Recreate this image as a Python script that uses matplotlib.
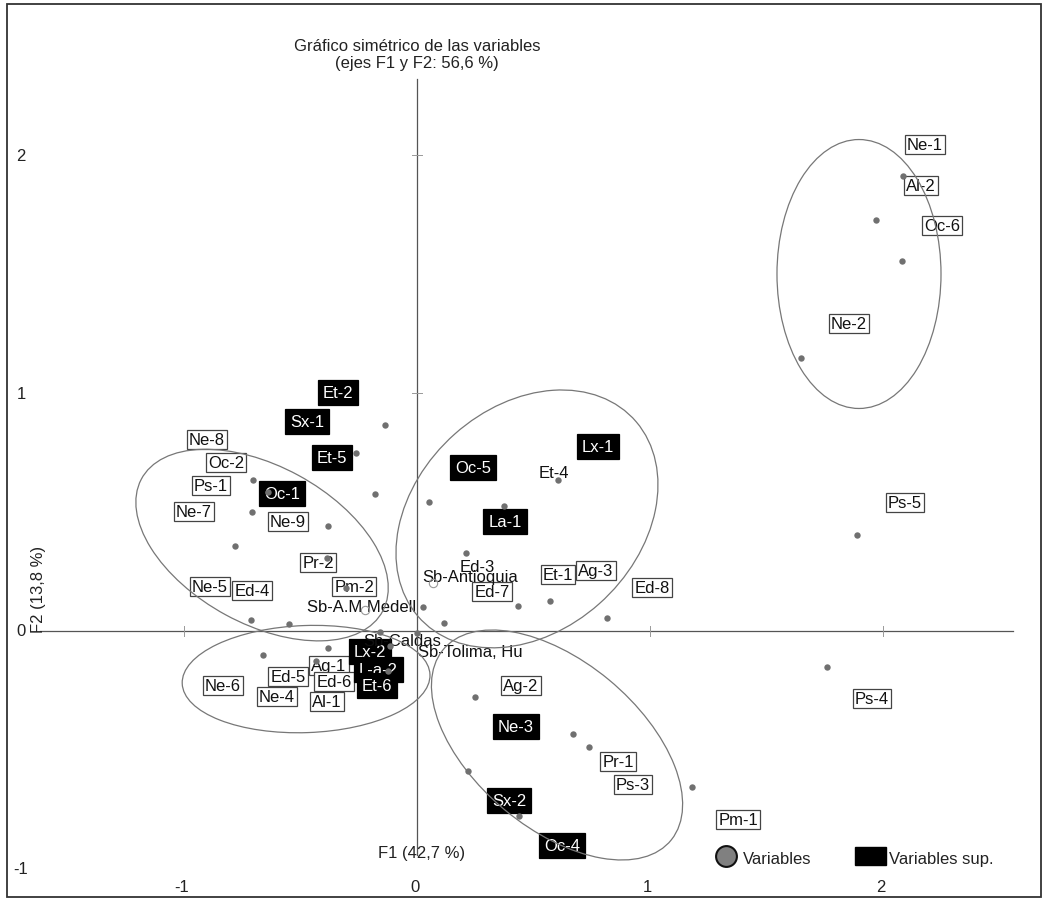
import matplotlib
matplotlib.use("Agg")
import matplotlib.pyplot as plt
from matplotlib.patches import Ellipse, Rectangle

plt.rcParams["font.family"] = ["Liberation Sans", "DejaVu Sans"]

# active variables (grey points), F1 / F2 coordinates
var_x = [-0.137, -0.262, -0.704, -0.639, -0.180, -0.708, -0.382, -0.781,
         -0.386, -0.305, -0.712, -0.549, 0.026, 0.116, 0.052, 0.605,
         0.373, 0.210, 0.571, 0.433, 0.815, 0.000, -0.159, -0.116,
         -0.661, -0.382, -0.433, -0.124, 0.249, 0.670, 0.738, 1.180,
         0.219, 0.438, 1.760, 1.888, 2.086, 1.970, 2.082, 1.648]
var_y = [0.866, 0.748, 0.634, 0.584, 0.576, 0.500, 0.441, 0.357,
         0.307, 0.181, 0.046, 0.029, 0.101, 0.034, 0.542, 0.634,
         0.525, 0.328, 0.126, 0.105, 0.055, -0.008, -0.004, -0.063,
         -0.101, -0.071, -0.126, -0.168, -0.277, -0.433, -0.487, -0.655,
         -0.588, -0.777, -0.151, 0.403, 1.912, 1.727, 1.555, 1.147]

# supplementary qualitative points (hollow)
sup_x = [-0.223, 0.069]
sup_y = [0.088, 0.202]

# labels of active variables (white boxes)
box_names = ["Ne-1", "Al-2", "Oc-6", "Ne-2", "Ps-5", "Ps-4", "Pm-1", "Ed-8",
             "Ag-3", "Et-1", "Ed-7", "Ag-2", "Pr-1", "Ps-3", "Ne-8", "Oc-2",
             "Ps-1", "Ne-7", "Ne-9", "Pr-2", "Pm-2", "Ne-5", "Ed-4", "Ne-6",
             "Ed-5", "Ne-4", "Ag-1", "Ed-6", "Al-1"]
box_x = [2.180, 2.163, 2.253, 1.854, 2.094, 1.953, 1.378, 1.009,
         0.768, 0.605, 0.322, 0.446, 0.863, 0.927, -0.901, -0.820,
         -0.884, -0.957, -0.554, -0.425, -0.270, -0.888, -0.708, -0.833,
         -0.554, -0.601, -0.378, -0.356, -0.386]
box_y = [2.046, 1.870, 1.702, 1.290, 0.542, -0.282, -0.794, 0.181,
         0.256, 0.239, 0.164, -0.231, -0.550, -0.643, 0.803, 0.706,
         0.613, 0.500, 0.458, 0.286, 0.189, 0.189, 0.172, -0.231,
         -0.193, -0.277, -0.147, -0.214, -0.298]

# supplementary variables (black boxes)
sup_names = ["Et-2", "Sx-1", "Et-5", "Oc-1", "Oc-5", "Lx-1", "La-1", "Lx-2",
             "L-a-2", "Et-6", "Ne-3", "Sx-2", "Oc-4"]
sup_lx = [-0.339, -0.472, -0.365, -0.579, 0.240, 0.777, 0.378, -0.202,
          -0.167, -0.172, 0.425, 0.395, 0.622]
sup_ly = [1.004, 0.882, 0.727, 0.576, 0.685, 0.777, 0.462, -0.088,
          -0.160, -0.231, -0.403, -0.714, -0.903]

# plain labels
txt_names = ["Et-4", "Ed-3", "Sb-Antioquia", "Sb-A.M Medell", "Sb-Caldas",
             "Sb-Tolima, Hu"]
txt_x = [0.588, 0.258, 0.227, -0.240, -0.064, 0.227]
txt_y = [0.668, 0.269, 0.227, 0.101, -0.038, -0.088]

# group ellipses: centre x, centre y, width, height, angle
ell_cx = [-0.665, 0.472, -0.476, 0.601, 1.897]
ell_cy = [0.361, 0.471, -0.202, -0.479, 1.500]
ell_w = [1.175, 1.243, 1.064, 1.264, 0.704]
ell_h = [0.664, 0.945, 0.450, 0.706, 1.130]
ell_a = [-28, 41, 2, -39, 0]

ticks = [-1, 0, 1, 2]

FS = 12

fig = plt.figure(figsize=(10.47, 9.03), dpi=100)
ax = fig.add_axes([0, 0, 1, 1])
ax.set_xlim(-1.7897, 2.7039)
ax.set_ylim(-1.1387, 2.6555)
ax.axis("off")

# outer frame
ax.add_patch(Rectangle((0.007, 0.005), 0.987, 0.99, transform=ax.transAxes,
                       fill=False, edgecolor="#333333", linewidth=1.3))

# axes through the origin
ax.plot([-1.618, 2.558], [0, 0], color="#555555", lw=0.9, zorder=3)
ax.plot([0, 0], [2.319, -0.94], color="#555555", lw=0.9, zorder=3)
for t in [-1, 1, 2]:
    ax.plot([t, t], [-0.02, 0.02], color="#999999", lw=0.7, zorder=3)
for t in [1, 2]:
    ax.plot([-0.02, 0.02], [t, t], color="#999999", lw=0.7, zorder=3)

# tick labels
for t in ticks:
    ax.text(t - 0.01, -1.075, str(t), ha="center", va="center", fontsize=FS,
            color="#222222")
    ax.text(-1.70, t, str(t), ha="center", va="center", fontsize=FS,
            color="#222222")

# titles and axis names
ax.text(0.0, 2.425, "Gráfico simétrico de las variables\n(ejes F1 y F2: 56,6 %)",
        ha="center", va="center", fontsize=FS, color="#222222", linespacing=1.15)
ax.text(0.02, -0.93, "F1 (42,7 %)", ha="center", va="center", fontsize=FS,
        color="#222222")
ax.text(-1.625, 0.18, "F2 (13,8 %)", ha="center", va="center", fontsize=FS,
        rotation=90, color="#222222")

for cx, cy, w, h, a in zip(ell_cx, ell_cy, ell_w, ell_h, ell_a):
    ax.add_patch(Ellipse((cx, cy), w, h, angle=a, fill=False,
                         edgecolor="#777777", linewidth=0.9, zorder=3))

for name, x, y in zip(box_names, box_x, box_y):
    ax.text(x, y, name, ha="center", va="center", fontsize=FS,
            color="#111111", zorder=2,
            bbox=dict(boxstyle="square,pad=0.12", facecolor="white",
                      edgecolor="#444444", linewidth=0.9))

for name, x, y in zip(sup_names, sup_lx, sup_ly):
    ax.text(x, y, name, ha="center", va="center", fontsize=FS,
            color="white", zorder=2,
            bbox=dict(boxstyle="square,pad=0.3", facecolor="black",
                      edgecolor="black", linewidth=0.9))

for name, x, y in zip(txt_names, txt_x, txt_y):
    ax.text(x, y, name, ha="center", va="center", fontsize=FS,
            color="#111111", zorder=2)

ax.plot(var_x, var_y, "o", color="#707070", markersize=4.6,
        markeredgewidth=0, zorder=4)
ax.plot(sup_x, sup_y, "o", markerfacecolor="none", markeredgecolor="#999999",
        markersize=6, markeredgewidth=0.8, zorder=4)

# legend
ax.plot([1.328], [-0.945], "o", markersize=15, markerfacecolor="#808080",
        markeredgecolor="#111111", markeredgewidth=1.5, zorder=4)
ax.text(1.40, -0.958, "Variables", ha="left", va="center", fontsize=FS,
        color="#222222")
ax.add_patch(Rectangle((1.880, -0.983), 0.133, 0.076, facecolor="black",
                       edgecolor="black", zorder=4))
ax.text(2.025, -0.958, "Variables sup.", ha="left", va="center", fontsize=FS,
        color="#222222")

fig.savefig("out.png", dpi=100)
